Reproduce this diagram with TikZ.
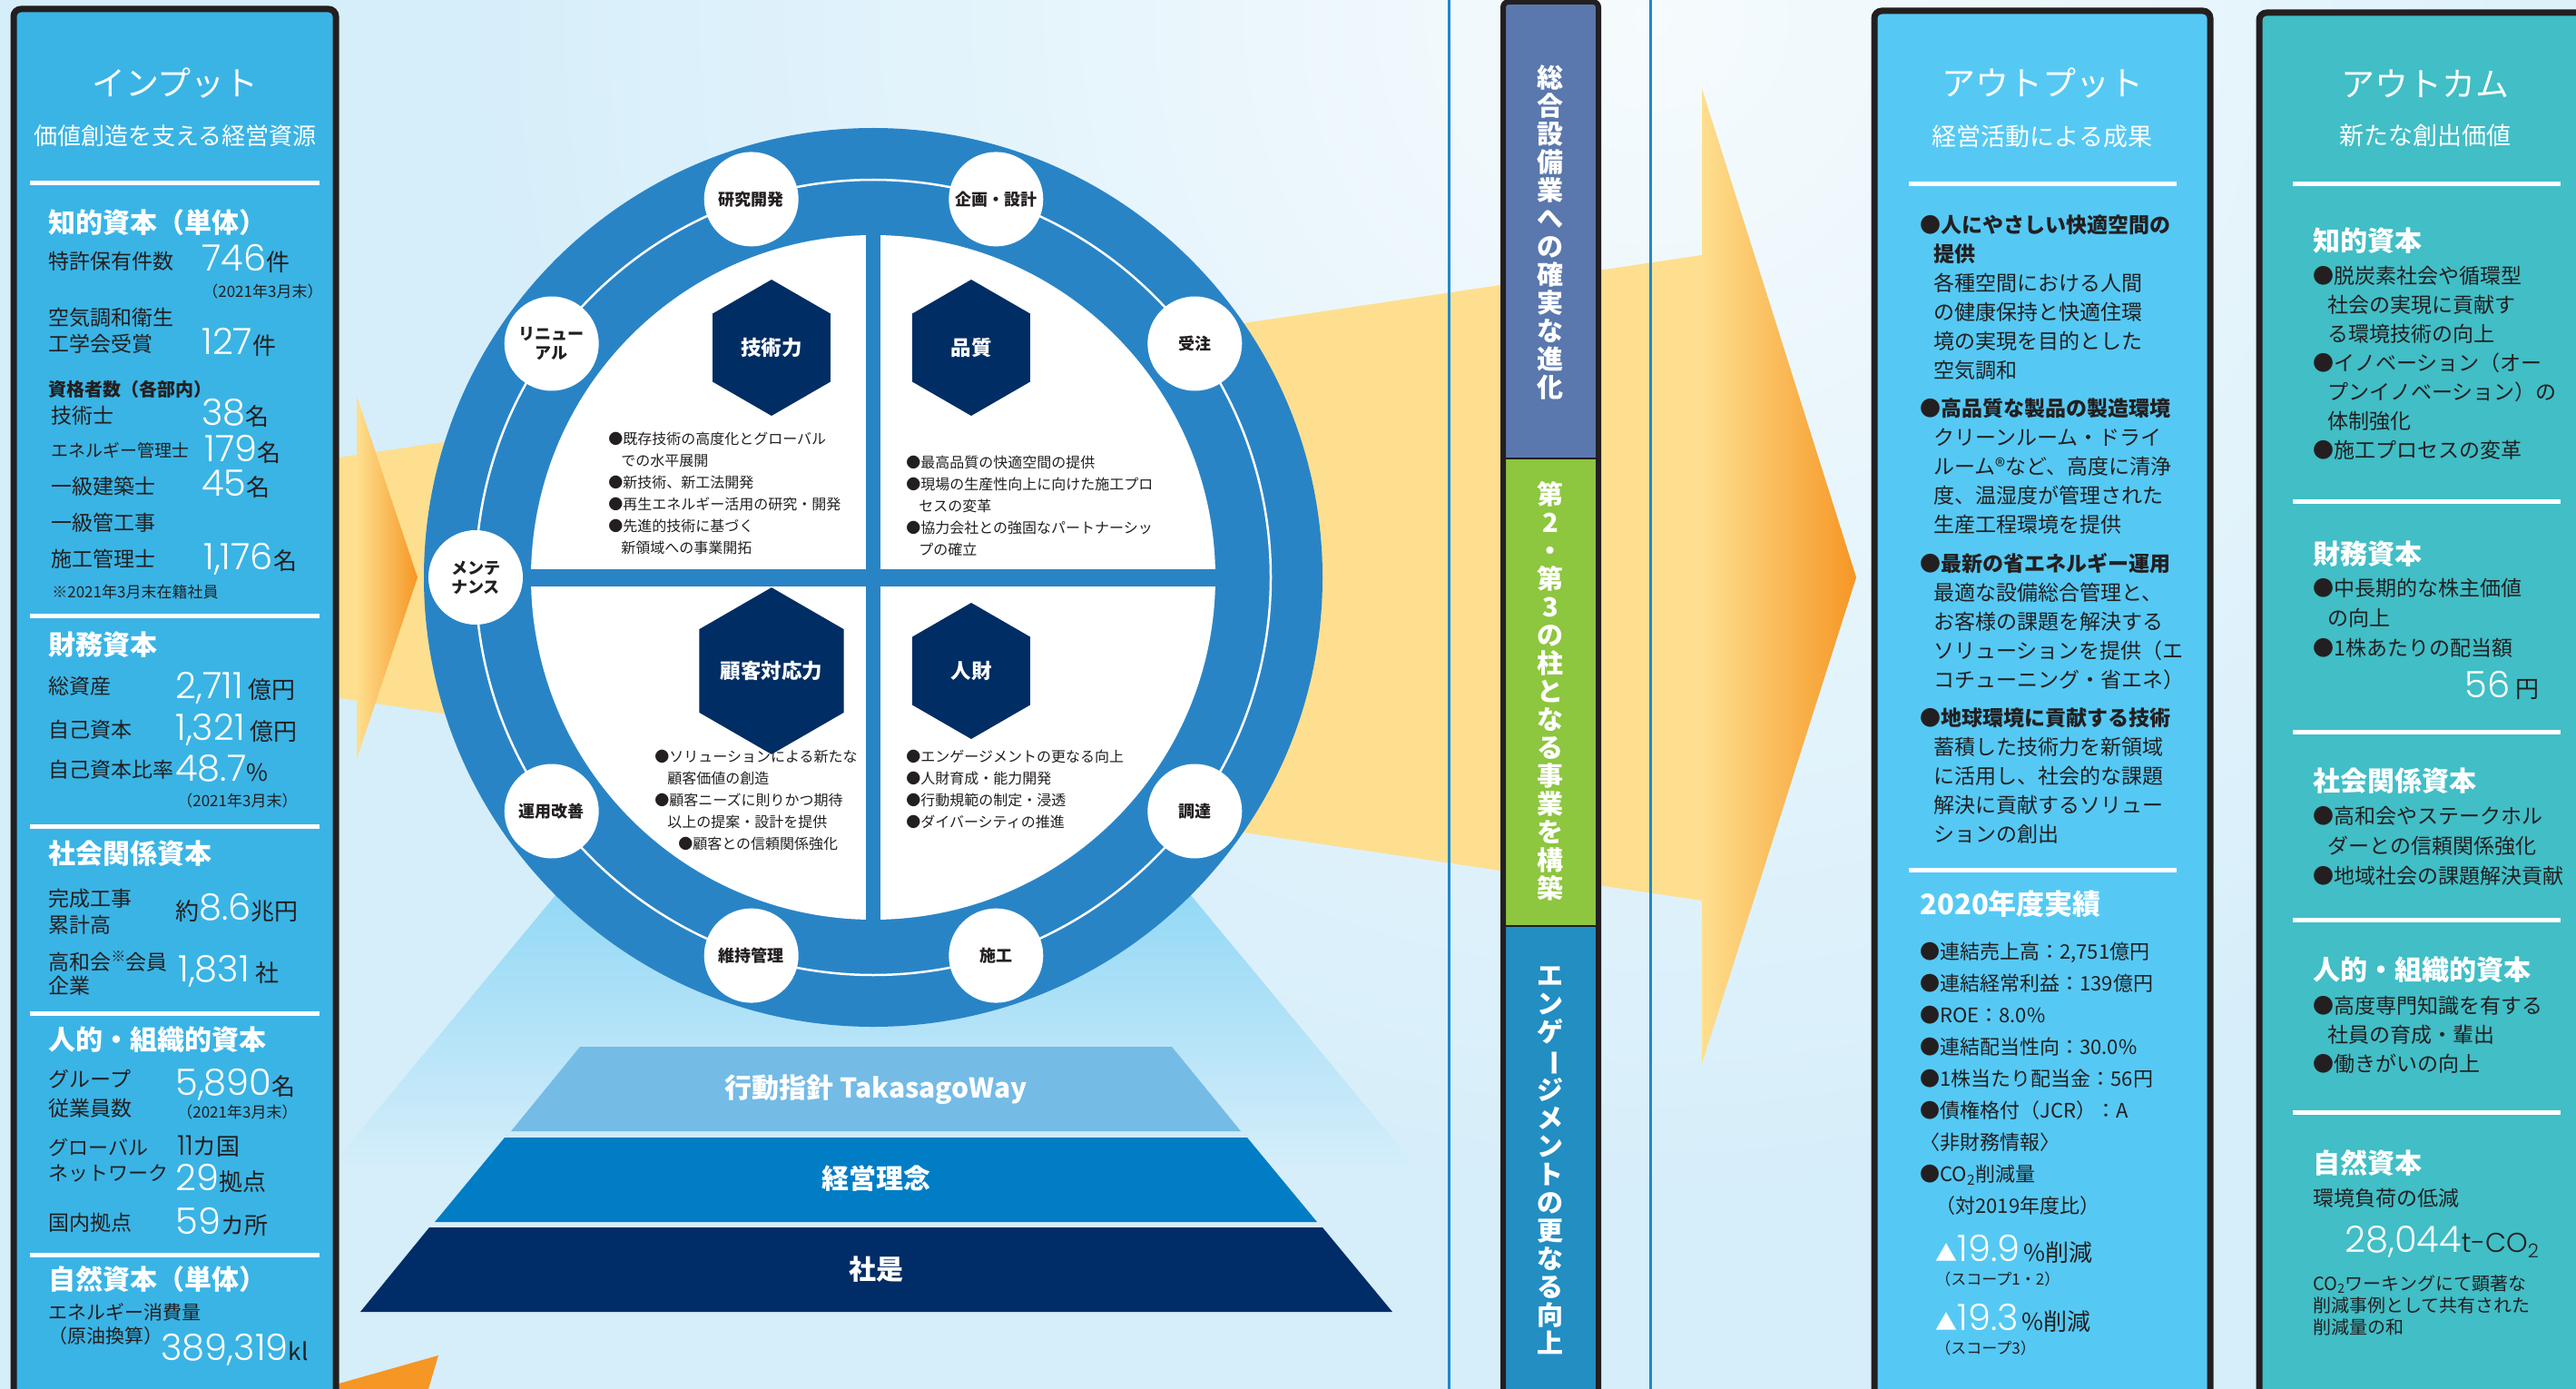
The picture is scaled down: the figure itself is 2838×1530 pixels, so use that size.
\documentclass[tikz,border=0pt]{standalone}
\usepackage{fontspec}
\setmainfont{Noto Sans CJK JP}
\newfontfamily\numfont{Poppins Light}
\usetikzlibrary{shapes.geometric}

\definecolor{bgblue}{RGB}{214,238,250}
\definecolor{inblue}{RGB}{58,180,229}
\definecolor{outblue}{RGB}{85,201,244}
\definecolor{outteal}{RGB}{65,190,198}
\definecolor{edgedark}{RGB}{35,31,32}
\definecolor{inkdark}{RGB}{35,31,32}
\definecolor{ringblue}{RGB}{41,132,198}
\definecolor{navy}{RGB}{0,45,99}
\definecolor{pyrlight}{RGB}{116,187,230}
\definecolor{pyrmid}{RGB}{0,125,197}
\definecolor{pyrdark}{RGB}{0,45,103}
\definecolor{bandyellow}{RGB}{254,223,143}
\definecolor{arroworange}{RGB}{246,150,36}
\definecolor{barslate}{RGB}{90,120,173}
\definecolor{bargreen}{RGB}{141,198,63}
\definecolor{barblue}{RGB}{34,142,194}
\definecolor{conecyan}{RGB}{140,214,245}
\definecolor{lineblue}{RGB}{30,136,205}

\newcommand{\fsz}[1]{\fontsize{#1}{#1}\selectfont}
\newcommand{\bignum}[1]{{\numfont\fontsize{40}{40}\selectfont\color{white}#1}}
\newcommand{\vchoon}{\rotatebox[origin=c]{-90}{ー}}

\tikzset{every picture/.style={line width=0.75pt}}
\tikzset{
  lbl/.style={anchor=west, inner sep=0pt, text=inkdark, font=\fontsize{23}{23}\selectfont},
  smalllbl/.style={anchor=west, inner sep=0pt, text=inkdark, font=\fontsize{17}{17}\selectfont},
  caphead/.style={anchor=west, inner sep=0pt, text=white, font=\bfseries\fontsize{30}{30}\selectfont},
  coltitle/.style={inner sep=0pt, text=white, font=\fontsize{37}{37}\selectfont},
  colsub/.style={inner sep=0pt, text=white, font=\fontsize{26}{26}\selectfont},
  valnode/.style={anchor=base west, inner sep=0pt, text=inkdark, font=\fontsize{26}{26}\selectfont},
  stage/.style={circle, fill=white, minimum size=104pt, inner sep=0pt, align=center, text=inkdark, font=\bfseries\fontsize{18}{21}\selectfont},
  hexa/.style={regular polygon, regular polygon sides=6, shape border rotate=30, fill=navy, minimum size=150pt, inner sep=0pt, text=white, font=\bfseries\fontsize{22.5}{22.5}\selectfont},
  quadtext/.style={anchor=north west, inner sep=0pt, align=left, text=inkdark, font=\fontsize{16}{24}\selectfont},
  bodytext/.style={anchor=north west, inner sep=0pt, align=left, text=inkdark, font=\fontsize{23}{32}\selectfont},
  tier/.style={inner sep=0pt, text=white, font=\bfseries\fontsize{30}{30}\selectfont},
  pillar/.style={inner sep=0pt, align=center, text=white, font=\bfseries\fontsize{29}{31}\selectfont},
  colrule/.style={white, line width=5pt},
}

\begin{document}
\begin{tikzpicture}[x=1pt,y=1pt,yscale=-1]
\clip (0,0) rectangle (2838,1530);

%Shape: Background
\fill[bgblue] (0,0) rectangle (2838,1530);
\shade[inner color={rgb,255:red,246;green,251;blue,253}, outer color=bgblue] (1820,20) circle (1300);

%Shape: Cone under the wheel
\shade[top color=conecyan, bottom color=bgblue] (642,950) -- (1282,950) -- (1564,1290) -- (360,1290) -- cycle;

%Shape: Yellow band and big arrow
\fill[bandyellow] (360,506) -- (1875,281) -- (1875,98) -- (2045,636) -- (1875,1171) -- (1875,992) -- (360,767) -- cycle;
\shade[left color=bandyellow, right color=arroworange] (1875,98) -- (2045,636) -- (1875,1171) -- cycle;
%Shape: Left arrowhead
\shade[left color=bandyellow, right color=arroworange] (393,436) -- (460,636) -- (393,836) -- cycle;
%Shape: Arrow tip bottom left
\fill[arroworange] (370,1525) -- (483,1493) -- (472,1530) -- (370,1530) -- cycle;

%Shape: Wheel
\fill[ringblue] (962,636) circle (495);
\draw[white, line width=2.5pt] (962,636) circle (438);
\fill[white] (962,636) circle (377);
\fill[ringblue] (954,250) rectangle (970,1022);
\fill[ringblue] (580,627) rectangle (1344,646);

% Stage circles
\node[stage] (sKenkyu) at (827.7,219.4) {研究開発};
\node[stage] (sKikaku) at (1097.3,219.4) {企画・設計};
\node[stage] (sJuchu) at (1316.3,378.5) {受注};
\node[stage] (sChotatsu) at (1316.3,893.5) {調達};
\node[stage] (sSeko) at (1097.3,1052.6) {施工};
\node[stage] (sIji) at (827.7,1052.6) {維持管理};
\node[stage] (sUnyo) at (607.7,893.5) {運用改善};
\node[stage] (sMente) at (524,636) {メンテ\\ナンス};
\node[stage] (sRenew) at (607.7,378.5) {リニュー\\アル};

% Hexagons
\node[hexa] (hGijutsu) at (850,383) {技術力};
\node[hexa] (hHinshitsu) at (1070,383) {品質};
\node[hexa] (hKokyaku) at (850,739) {顧客対応力};
\node[hexa] (hJinzai) at (1070,739) {人財};

% Text Node
\node[quadtext] (qGijutsu) at (670,476) {●既存技術の高度化とグローバル\\\hspace*{14pt}での水平展開\\●新技術、新工法開発\\●再生エネルギー活用の研究・開発\\●先進的技術に基づく\\\hspace*{14pt}新領域への事業開拓};
% Text Node
\node[quadtext] (qHinshitsu) at (998,502) {●最高品質の快適空間の提供\\●現場の生産性向上に向けた施工プロ\\\hspace*{14pt}セスの変革\\●協力会社との強固なパートナーシッ\\\hspace*{14pt}プの確立};
% Text Node
\node[quadtext] (qKokyaku) at (721,826) {●ソリューションによる新たな\\\hspace*{14pt}顧客価値の創造\\●顧客ニーズに則りかつ期待\\\hspace*{14pt}以上の提案・設計を提供\\\hspace*{26pt}●顧客との信頼関係強化};
% Text Node
\node[quadtext] (qJinzai) at (998,826) {●エンゲージメントの更なる向上\\●人財育成・能力開発\\●行動規範の制定・浸透\\●ダイバーシティの推進};

%Shape: Pyramid
\fill[pyrlight] (639,1153) -- (1291,1153) -- (1367,1246) -- (563,1246) -- cycle;
\fill[pyrmid] (556,1253) -- (1374,1253) -- (1451,1346) -- (479,1346) -- cycle;
\fill[pyrdark] (473,1352) -- (1457,1352) -- (1534,1445) -- (397,1445) -- cycle;
\node[tier] (tWay) at (965,1200) {行動指針 TakasagoWay};
\node[tier] (tRinen) at (965,1298) {経営理念};
\node[tier] (tShaze) at (965,1398) {社是};

%Straight Lines: thin guides
\draw[lineblue, line width=3pt] (1596,0) -- (1596,1530);
\draw[lineblue, line width=3pt] (1818,0) -- (1818,1530);

%Shape: Pillar bar
\begin{scope}
\clip[rounded corners=6pt] (1656,2) rectangle (1761,1560);
\fill[barslate] (1656,0) rectangle (1761,505);
\fill[bargreen] (1656,505) rectangle (1761,1020);
\fill[barblue] (1656,1020) rectangle (1761,1560);
\end{scope}
\draw[edgedark, line width=2pt] (1656,505) -- (1761,505);
\draw[edgedark, line width=2pt] (1656,1020) -- (1761,1020);
\draw[edgedark, line width=6pt, rounded corners=6pt] (1656,2) rectangle (1761,1560);
\node[pillar] (pShinka) at (1708,256) {総\\合\\設\\備\\業\\へ\\の\\確\\実\\な\\進\\化};
\node[pillar] (pJigyo) at (1708,761) {第\\2\\・\\第\\3\\の\\柱\\と\\な\\る\\事\\業\\を\\構\\築};
\node[pillar] (pEngage) at (1708,1278) {エ\\ン\\ゲ\\\vchoon\\ジ\\メ\\ン\\ト\\の\\更\\な\\る\\向\\上};

%Shape: Input column
\draw[edgedark, line width=7pt, fill=inblue, rounded corners=8pt] (15,10) rectangle (370,1560);
\node[coltitle] (inTitle) at (193,92) {インプット};
\node[colsub] (inSub) at (193,150) {価値創造を支える経営資源};
\draw[colrule] (33,202) -- (352,202);

\node[caphead] (inChiteki) at (53,245) {知的資本（単体）};
\node[lbl] (lTokkyo) at (53,288) {特許保有件数};
\node[valnode] (vTokkyo) at (222,299) {\bignum{746}件};
\node[smalllbl] (dTokkyo) at (223,321) {（2021年3月末）};
\node[lbl] (lKucho1) at (53,350) {空気調和衛生};
\node[lbl] (lKucho2) at (53,379) {工学会受賞};
\node[valnode] (vKucho) at (222,390) {\bignum{127}件};
\node[lbl, font=\bfseries\fsz{20}] (lShikaku) at (53,429) {資格者数（各部内）};
\node[lbl] (lGijutsushi) at (56,458) {技術士};
\node[valnode] (vGijutsushi) at (222,468) {\bignum{38}名};
\node[lbl, font=\fsz{19}] (lEnergy) at (56,496) {エネルギー管理士};
\node[valnode] (vEnergy) at (225,508) {\bignum{179}名};
\node[lbl] (lKenchiku) at (56,536) {一級建築士};
\node[valnode] (vKenchiku) at (222,546) {\bignum{45}名};
\node[lbl] (lKanko) at (56,576) {一級管工事};
\node[lbl] (lSekokan) at (56,616) {施工管理士};
\node[valnode] (vSekokan) at (224,627) {\bignum{1,176}名};
\node[smalllbl] (nZaiseki) at (57,652) {※2021年3月末在籍社員};
\draw[colrule] (33,678) -- (352,678);

\node[caphead] (inZaimu) at (53,710) {財務資本};
\node[lbl] (lSoshisan) at (53,756) {総資産};
\node[valnode] (vSoshisan) at (193,769) {\bignum{2,711}\hspace{6pt}億円};
\node[lbl] (lJiko) at (53,804) {自己資本};
\node[valnode] (vJiko) at (193,815) {\bignum{1,321}\hspace{6pt}億円};
\node[lbl] (lHiritsu) at (53,848) {自己資本比率};
\node[valnode] (vHiritsu) at (193,860) {\bignum{48.7}\%};
\node[smalllbl] (dHiritsu) at (195,882) {（2021年3月末）};
\draw[colrule] (33,910) -- (352,910);

\node[caphead] (inShakai) at (53,940) {社会関係資本};
\node[lbl] (lKansei1) at (53,990) {完成工事};
\node[lbl] (lKansei2) at (53,1019) {累計高};
\node[valnode] (vKansei) at (193,1013) {約\bignum{8.6}兆円};
\node[lbl] (lKowa1) at (53,1059) {高和会\textsuperscript{※}会員};
\node[lbl] (lKowa2) at (53,1086) {企業};
\node[valnode] (vKowa) at (196,1081) {\bignum{1,831}\hspace{6pt}社};
\draw[colrule] (33,1116) -- (352,1116);

\node[caphead] (inJinteki) at (53,1145) {人的・組織的資本};
\node[lbl] (lGroup1) at (53,1189) {グループ};
\node[lbl] (lGroup2) at (53,1221) {従業員数};
\node[valnode] (vGroup) at (193,1206) {\bignum{5,890}名};
\node[smalllbl] (dGroup) at (195,1225) {（2021年3月末）};
\node[lbl, font=\fsz{22}] (lGlobal1) at (53,1264) {グローバル};
\node[lbl, font=\fsz{22}] (lGlobal2) at (53,1292) {ネットワーク};
\node[valnode] (vGlobal1) at (195,1272) {{\numfont\fsz{30}11}カ国};
\node[valnode] (vGlobal2) at (193,1311) {\bignum{29}拠点};
\node[lbl] (lKokunai) at (53,1347) {国内拠点};
\node[valnode] (vKokunai) at (193,1359) {\bignum{59}カ所};
\draw[colrule] (33,1382) -- (352,1382);

\node[caphead] (inShizen) at (53,1409) {自然資本（単体）};
\node[lbl, font=\fsz{21}] (lShohi1) at (53,1445) {エネルギー消費量};
\node[lbl, font=\fsz{21}] (lShohi2) at (53,1472) {（原油換算）};
\node[valnode] (vShohi) at (177,1498) {\bignum{389,319}kl};

%Shape: Output column
\draw[edgedark, line width=7pt, fill=outblue, rounded corners=8pt] (2065,12) rectangle (2435,1560);
\node[coltitle] (outTitle) at (2250,92) {アウトプット};
\node[colsub, font=\fsz{27}] (outSub) at (2250,150) {経営活動による成果};
\draw[colrule] (2103,203) -- (2398,203);

% Text Node
\node[bodytext] (oKaiteki) at (2115,236) {{\bfseries ●人にやさしい快適空間の}\\\hspace*{15pt}{\bfseries 提供}\\\hspace*{15pt}各種空間における人間\\\hspace*{15pt}の健康保持と快適住環\\\hspace*{15pt}境の実現を目的とした\\\hspace*{15pt}空気調和};
% Text Node
\node[bodytext] (oSeizo) at (2115,438) {{\bfseries ●高品質な製品の製造環境}\\\hspace*{15pt}クリーンルーム・ドライ\\\hspace*{15pt}ルーム®など、高度に清浄\\\hspace*{15pt}度、温湿度が管理された\\\hspace*{15pt}生産工程環境を提供};
% Text Node
\node[bodytext] (oShoene) at (2115,609) {{\bfseries ●最新の省エネルギー運用}\\\hspace*{15pt}最適な設備総合管理と、\\\hspace*{15pt}お客様の課題を解決する\\\hspace*{15pt}ソリューションを提供（エ\\\hspace*{15pt}コチューニング・省エネ）};
% Text Node
\node[bodytext] (oChikyu) at (2115,779) {{\bfseries ●地球環境に貢献する技術}\\\hspace*{15pt}蓄積した技術力を新領域\\\hspace*{15pt}に活用し、社会的な課題\\\hspace*{15pt}解決に貢献するソリュー\\\hspace*{15pt}ションの創出};
\draw[colrule] (2103,958) -- (2398,958);

\node[caphead, font=\bfseries\fsz{31}] (outJisseki) at (2115,996) {2020年度実績};
% Text Node
\node[bodytext, font=\fontsize{22}{35}\selectfont] (oJisseki) at (2115,1038) {●連結売上高：2,751億円\\●連結経常利益：139億円\\●ROE：8.0\%\\●連結配当性向：30.0\%\\●1株当たり配当金：56円\\●債権格付（JCR）：A\\〈非財務情報〉\\●CO\textsubscript{2}削減量\\\hspace*{17pt}（対2019年度比）};
\node[valnode] (oScope12) at (2132,1389) {{\color{white}\fsz{24}▲}\bignum{19.9}\hspace{4pt}\%削減};
\node[smalllbl] (dScope12) at (2132,1409) {（スコープ1・2）};
\node[valnode] (oScope3) at (2132,1465) {{\color{white}\fsz{24}▲}\bignum{19.3}\hspace{4pt}\%削減};
\node[smalllbl] (dScope3) at (2132,1485) {（スコープ3）};

%Shape: Outcome column
\draw[edgedark, line width=7pt, fill=outteal, rounded corners=8pt] (2489,14) rectangle (2870,1560);
\node[coltitle] (ocTitle) at (2672,92) {アウトカム};
\node[colsub, font=\fsz{27}] (ocSub) at (2672,149) {新たな創出価値};
\draw[colrule] (2526,203) -- (2821,203);

\node[caphead] (ocChiteki) at (2548,265) {知的資本};
% Text Node
\node[bodytext] (cChiteki) at (2548,293) {●脱炭素社会や循環型\\\hspace*{16pt}社会の実現に貢献す\\\hspace*{16pt}る環境技術の向上\\●イノベーション（オー\\\hspace*{16pt}プンイノベーション）の\\\hspace*{16pt}体制強化\\●施工プロセスの変革};
\draw[colrule] (2526,552) -- (2821,552);

\node[caphead] (ocZaimu) at (2548,610) {財務資本};
% Text Node
\node[bodytext, font=\fontsize{23}{33}\selectfont] (cZaimu) at (2548,637) {●中長期的な株主価値\\\hspace*{16pt}の向上\\●1株あたりの配当額};
\node[valnode] (cHaito) at (2715,768) {\bignum{56}\hspace{6pt}円};
\draw[colrule] (2526,806) -- (2821,806);

\node[caphead] (ocShakai) at (2548,860) {社会関係資本};
% Text Node
\node[bodytext, font=\fontsize{23}{33}\selectfont] (cShakai) at (2548,888) {●高和会やステークホル\\\hspace*{16pt}ダーとの信頼関係強化\\●地域社会の課題解決貢献};
\draw[colrule] (2526,1013) -- (2821,1013);

\node[caphead] (ocJinteki) at (2548,1068) {人的・組織的資本};
% Text Node
\node[bodytext, font=\fontsize{23}{32}\selectfont] (cJinteki) at (2548,1097) {●高度専門知識を有する\\\hspace*{16pt}社員の育成・輩出\\●働きがいの向上};
\draw[colrule] (2526,1225) -- (2821,1225);

\node[caphead] (ocShizen) at (2548,1281) {自然資本};
\node[lbl] (cTeigen) at (2548,1320) {環境負荷の低減};
\node[valnode] (cCO2) at (2583,1379) {\bignum{28,044}{\numfont\fsz{30}t-CO\textsubscript{2}}};
% Text Node
\node[bodytext, font=\fontsize{20}{24}\selectfont] (cWorking) at (2548,1404) {CO\textsubscript{2}ワーキングにて顕著な\\削減事例として共有された\\削減量の和};

\end{tikzpicture}
\end{document}
